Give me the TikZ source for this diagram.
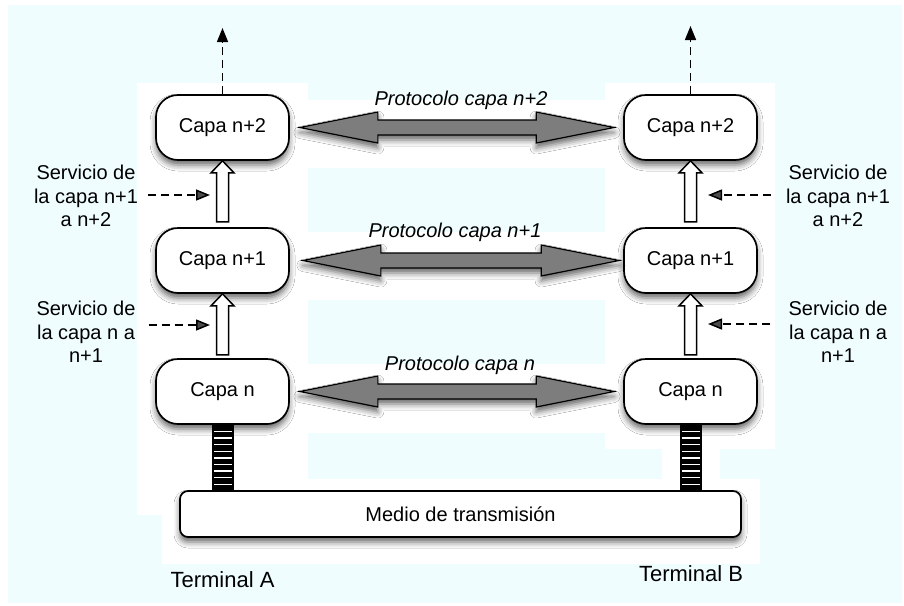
\documentclass[tikz,border=0pt]{standalone}
\usepackage{fontspec}
\setmainfont{Liberation Sans}
\usetikzlibrary{calc,arrows.meta,shadows.blur}

\definecolor{paper}{RGB}{240,253,255}
\definecolor{arrowgray}{RGB}{125,125,125}

% double-headed grey protocol arrow between two layer boxes
% #1 left node, #2 right node, #3 left gap, #4 right gap
\newcommand\protoarrow[4]{%
  \path ($(#1.east)+(#3,0)$) coordinate (pL) ($(#2.west)+(-#4,0)$) coordinate (pR);
  \draw[protoarr] (pL) -- ($(pL)+(78,-15.5)$) -- ($(pL)+(78,-7.5)$)
    -- ($(pR)+(-78,-7.5)$) -- ($(pR)+(-78,-15.5)$) -- (pR)
    -- ($(pR)+(-78,15.5)$) -- ($(pR)+(-78,7.5)$)
    -- ($(pL)+(78,7.5)$) -- ($(pL)+(78,15.5)$) -- cycle;}

% hollow white service arrow pointing up into the box above
\newcommand\servicearrow[1]{%
  \draw[hollowarr] (#1.south) -- ++(11.5,12) -- ++(-5.5,0) -- ++(0,49)
    -- ++(-12,0) -- ++(0,-49) -- ++(-5.5,0) -- cycle;}

\begin{document}
\begin{tikzpicture}[x=1pt,y=-1pt,
  softshadow/.style={blur shadow={shadow xshift=0pt, shadow yshift=-5pt,
      shadow blur radius=6pt, shadow opacity=60}},
  capabox/.style={draw=black, line width=1.7pt, fill=white, rounded corners=22pt,
      minimum width=133pt, minimum height=65pt, inner sep=0pt,
      font=\fontsize{20}{24}\selectfont, softshadow},
  mediobox/.style={draw=black, line width=1.7pt, fill=white, rounded corners=8pt,
      minimum width=561pt, minimum height=46pt, inner sep=0pt,
      font=\fontsize{20}{24}\selectfont, softshadow},
  ladder/.style={fill=black, draw=none, minimum width=22pt, minimum height=67pt,
      inner sep=0pt, outer sep=0pt,
      path picture={\foreach \k in {0,...,8}{%
        \draw[white, line width=1.4pt]
          ($(path picture bounding box.north west)+(2,7.5+6.6*\k)$) --
          ($(path picture bounding box.north east)+(-2,7.5+6.6*\k)$);}}},
  svc/.style={dash pattern=on 8pt off 5pt, line width=1.5pt,
      -{Triangle[length=14pt,width=11pt]}},
  protoarr/.style={draw=black, line width=1.2pt, fill=arrowgray, line join=miter,
      softshadow},
  hollowarr/.style={draw=black, line width=1.5pt, fill=white, line join=miter},
  lbl/.style={align=center, font=\fontsize{20}{23.5}\selectfont, inner sep=0pt},
  termlbl/.style={font=\fontsize{22}{26}\selectfont, inner sep=0pt},
  plbl/.style={font=\fontsize{20}{24}\selectfont\itshape, inner sep=0pt}]

% background
\useasboundingbox (0,0) rectangle (904,605);
\fill[white] (0,0) rectangle (904,605);
\fill[paper] (8,5) rectangle (902,603);
\fill[white] (137,83) rectangle (308,515);
\fill[white] (605,83) rectangle (775,449);
\fill[white] (308,100) rectangle (605,168);
\fill[white] (308,232) rectangle (605,300);
\fill[white] (308,364) rectangle (605,433);
\fill[white] (162,479) rectangle (760,564);
\fill[white] (662,449) rectangle (720,479);

% layer boxes
\node[capabox] (a2) at (222.5,127.5) {Capa n+2};
\node[capabox] (a1) at (222.5,260.5) {Capa n+1};
\node[capabox] (a0) at (222.5,391.5) {Capa n};
\node[capabox] (b2) at (690.5,127.5) {Capa n+2};
\node[capabox] (b1) at (690.5,260.5) {Capa n+1};
\node[capabox] (b0) at (690.5,391.5) {Capa n};

% transmission medium and physical links
\node[mediobox] (m) at (460.5,514) {Medio de transmisión};
\node[ladder] (la) at (223,457.5) {};
\node[ladder] (lb) at (690.5,457.5) {};

% upward continuation
\coordinate (upA) at (222.5,28);
\coordinate (upB) at (690.5,26);
\draw[svc] (a2.north) -- (upA);
\draw[svc] (b2.north) -- (upB);

% services between layers
\servicearrow{a2}
\servicearrow{a1}
\servicearrow{b2}
\servicearrow{b1}

% peer protocols
\protoarrow{a2}{b2}{10}{9}
\protoarrow{a1}{b1}{13}{4}
\protoarrow{a0}{b0}{10}{9}
\node[plbl] (p2) at (461,100) {Protocolo capa n+2};
\node[plbl] (p1) at (455,232) {Protocolo capa n+1};
\node[plbl] (p0) at (460,365) {Protocolo capa n};

% service labels
\node[lbl] (sa2) at (86,196) {Servicio de\\la capa n+1\\a n+2};
\node[lbl] (sa1) at (86,332) {Servicio de\\la capa n a\\n+1};
\node[lbl] (sb2) at (838,196) {Servicio de\\la capa n+1\\a n+2};
\node[lbl] (sb1) at (838,332) {Servicio de\\la capa n a\\n+1};
\coordinate (ta2) at (210,195);
\coordinate (ta1) at (210,325);
\coordinate (tb2) at (708,195);
\coordinate (tb1) at (708,324);
\draw[svc] ([shift={(10,-1)}]sa2.east) -- (ta2);
\draw[svc] ([shift={(13,-7)}]sa1.east) -- (ta1);
\draw[svc] ([shift={(-15,-1)}]sb2.west) -- (tb2);
\draw[svc] ([shift={(-18,-8)}]sb1.west) -- (tb1);

% terminals
\node[termlbl] (termA) at (222.5,580) {Terminal A};
\node[termlbl] (termB) at (691,574) {Terminal B};
\end{tikzpicture}
\end{document}
